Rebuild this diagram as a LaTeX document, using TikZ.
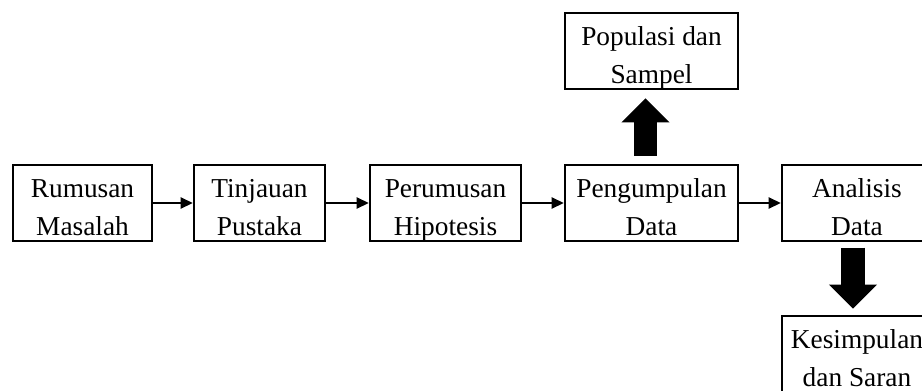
\documentclass[tikz,border=0pt]{standalone}
\usepackage{fontspec}
\setmainfont{Liberation Serif}
\usetikzlibrary{arrows.meta, positioning}
\tikzset{
	stepbox/.style={
			draw=black,
			line width=2pt,
			fill=white,
			minimum height=57pt,
			inner sep=0pt,
			align=center,
			font=\fontsize{20.5pt}{28.5pt}\selectfont,
			text height=49.5pt,
			text depth=1.5pt
		},
	thinarrow/.style={
			draw=black,
			line width=1pt,
			-{Triangle[length=9pt, width=8.5pt]}
		},
	bigarrow/.style={
			draw=black,
			line width=17.5pt,
			-{Triangle[length=18pt, width=35pt]}
		}
}
\begin{document}
\begin{tikzpicture}[x=0.75pt, y=-0.75pt]
\useasboundingbox (0,0) rectangle (922,390);

\node[stepbox, minimum width=104.25pt] (rm) at (82.5,203)  {Rumusan\\Masalah};
\node[stepbox, minimum width=98.25pt]  (tp) at (259.5,203) {Tinjauan\\Pustaka};
\node[stepbox, minimum width=113.25pt] (ph) at (445.5,203) {Perumusan\\Hipotesis};
\node[stepbox, minimum width=129.75pt] (pd) at (651.5,203) {Pengumpulan\\Data};
\node[stepbox, minimum width=112.5pt]  (ad) at (857,203)   {Analisis\\Data};
\node[stepbox, minimum width=129.75pt] (ps) at (651.5,51)  {Populasi dan\\Sampel};
\node[stepbox, minimum width=112.5pt]  (ks) at (857,354)   {Kesimpulan\\dan Saran};

\draw[thinarrow] (rm) -- (tp);
\draw[thinarrow] (tp) -- (ph);
\draw[thinarrow] (ph) -- (pd);
\draw[thinarrow] (pd) -- (ad);

% block arrows
\draw[bigarrow] ([xshift=-4.5pt, yshift=6pt]pd.north) -- ([xshift=-4.5pt, yshift=-6pt]ps.south);
\draw[bigarrow] ([xshift=-3pt, yshift=-4pt]ad.south) -- ([xshift=-3pt, yshift=4.5pt]ks.north);

\end{tikzpicture}
\end{document}
